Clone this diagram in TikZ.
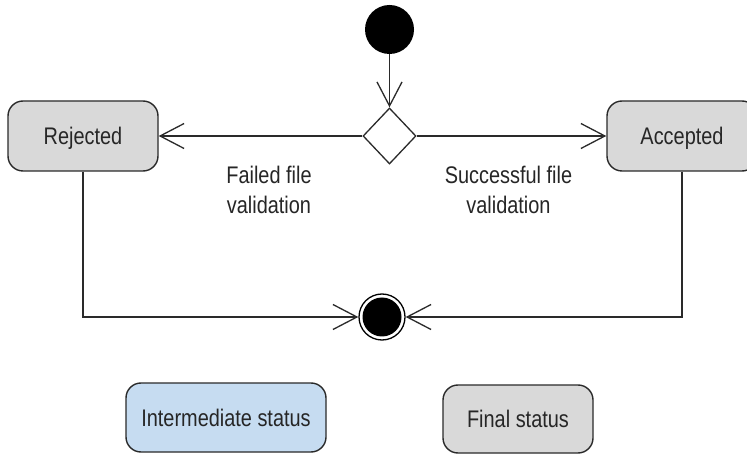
\documentclass[tikz,border=0pt]{standalone}
\usepackage{fontspec}
\setmainfont[FakeStretch=0.83]{Liberation Sans}
\usetikzlibrary{shapes.geometric,arrows.meta}
\definecolor{stategray}{HTML}{D9D9D9}
\definecolor{stateblue}{HTML}{C6DCF1}
\definecolor{linecol}{HTML}{2A2A2A}
\definecolor{txtcol}{HTML}{262626}
\tikzset{
  statebox/.style={draw=linecol, line width=1.4pt, rounded corners=15pt, fill=stategray,
    minimum width=150pt, minimum height=70pt, inner sep=0pt,
    text height=17.2pt, text depth=0pt, text=txtcol,
    font=\fontsize{24}{30}\selectfont},
  lbl/.style={align=center, text=txtcol, inner sep=0pt, font=\fontsize{24}{30}\selectfont},
  conn/.style={draw=linecol, line width=1.3pt},
  arr/.style={conn, -{Straight Barb[length=24pt,width=25pt]}},
}
\begin{document}
\begin{tikzpicture}[x=1pt,y=-1pt]
\useasboundingbox (0,0) rectangle (747,454);
\clip (0,0) rectangle (747,454);
\fill[white] (0,0) rectangle (747,454);
% nodes
\node[circle, fill=black, minimum size=49pt, inner sep=0pt] (start) at (389.5,29.5) {};
\node[diamond, draw=linecol, line width=1.3pt, fill=white, minimum width=53pt, minimum height=56pt, inner sep=0pt, aspect=0.95] (dia) at (389.5,136) {};
\node[statebox] (rej) at (83,136) {Rejected};
\node[statebox] (acc) at (682,136) {Accepted};
\node[circle, draw=black, line width=1.3pt, fill=white, minimum size=46pt, inner sep=0pt] (end) at (382,317) {};
\fill[black] (end.center) circle (19.5pt);
\node[lbl] (failed) at (269,189.5) {Failed file\\validation};
\node[lbl] (succ) at (508.5,189.5) {Successful file\\validation};
\node[statebox, fill=stateblue, minimum width=200pt, minimum height=69pt] (inter) at (226,417.5) {Intermediate status};
\node[statebox, minimum width=150pt, minimum height=68pt] (final) at (518,419) {Final status};
% connectors
\draw[arr] (start) -- (dia);
\draw[arr] (dia.west) -- (dia.west -| rej.east);
\draw[arr] (dia.east) -- (dia.east -| acc.west);
\draw[arr] (rej.south) |- (end.west);
\draw[arr] (acc.south) |- (end.east);
\end{tikzpicture}
\end{document}
